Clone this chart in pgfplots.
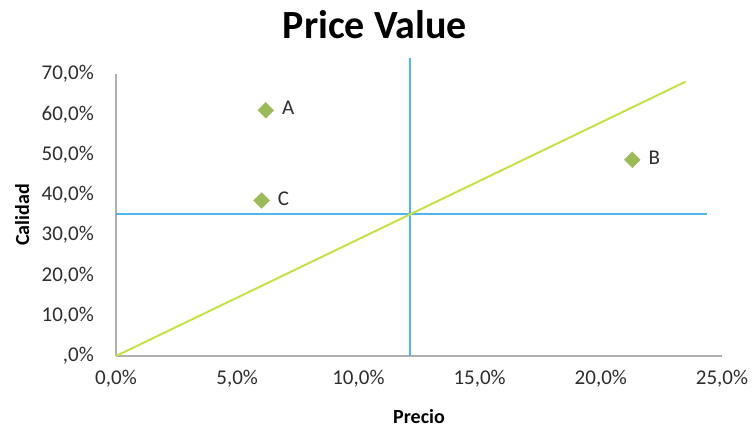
\documentclass[border=0pt]{standalone}
\usepackage{pgfplots}
\pgfplotsset{compat=1.18}
\usepackage{fontspec}
\setmainfont{Carlito}

\definecolor{markgreen}{RGB}{155,187,89}
\definecolor{trendgreen}{RGB}{196,226,72}
\definecolor{refblue}{RGB}{80,182,234}
\definecolor{axisgray}{RGB}{175,175,175}
\definecolor{labelgray}{RGB}{45,45,45}

% Positions of the products (percent)
\pgfplotstableread{
x     y     label
6.18  61.0  A
21.3  48.7  B
6.01  38.6  C
}\products

\begin{document}
\begin{tikzpicture}[x=1pt,y=1pt]
\useasboundingbox (-116,-80) rectangle (638,356);
\begin{axis}[
  at={(0,0)}, anchor=south west,
  scale only axis, width=606pt, height=282pt,
  xmin=0, xmax=25, ymin=0, ymax=70,
  clip=false,
  axis x line=bottom, axis y line=left,
  axis line style={-, draw=axisgray, line width=1.6pt},
  major tick length=0pt,
  xtick={0,5,10,15,20,25},
  xticklabels={{0,0\%},{5,0\%},{10,0\%},{15,0\%},{20,0\%},{25,0\%}},
  ytick={0,10,20,30,40,50,60,70},
  yticklabels={{,0\%},{10,0\%},{20,0\%},{30,0\%},{40,0\%},{50,0\%},{60,0\%},{70,0\%}},
  ticklabel style={font=\fontsize{21}{24}\selectfont, text=labelgray, inner sep=0pt},
  xticklabel style={anchor=north, yshift=-14pt},
  yticklabel style={anchor=east, xshift=-22pt},
  xlabel={Precio}, ylabel={Calidad},
  every axis x label/.style={at={(axis description cs:0.5,-0.213)}, anchor=center,
    font=\bfseries\fontsize{20}{23}\selectfont},
  every axis y label/.style={at={(axis description cs:-0.155,0.5)}, rotate=90, anchor=center,
    font=\bfseries\fontsize{20}{23}\selectfont},
]
% reference lines through the average price and quality
\addplot[refblue, line width=2pt] coordinates {(0,35.2) (24.4,35.2)};
\addplot[refblue, line width=2pt] coordinates {(12.13,0) (12.13,73.9)};
% price/value line
\addplot[trendgreen, line width=2pt] coordinates {(0,0) (23.5,68.1)};
% products
\addplot[only marks, mark=square*, mark size=5.6pt,
  mark options={rotate=45, fill=markgreen, draw=markgreen},
  nodes near coords, point meta=explicit symbolic,
  nodes near coords style={anchor=west, xshift=16pt, yshift=2pt,
    font=\fontsize{21}{24}\selectfont, text=labelgray, inner sep=0pt}]
  table[x=x, y=y, meta=label] {\products};
\node[font=\bfseries\fontsize{40}{46}\selectfont, anchor=center]
  at (rel axis cs:0.427,1) [yshift=49pt] {Price Value};
\end{axis}
\end{tikzpicture}
\end{document}
